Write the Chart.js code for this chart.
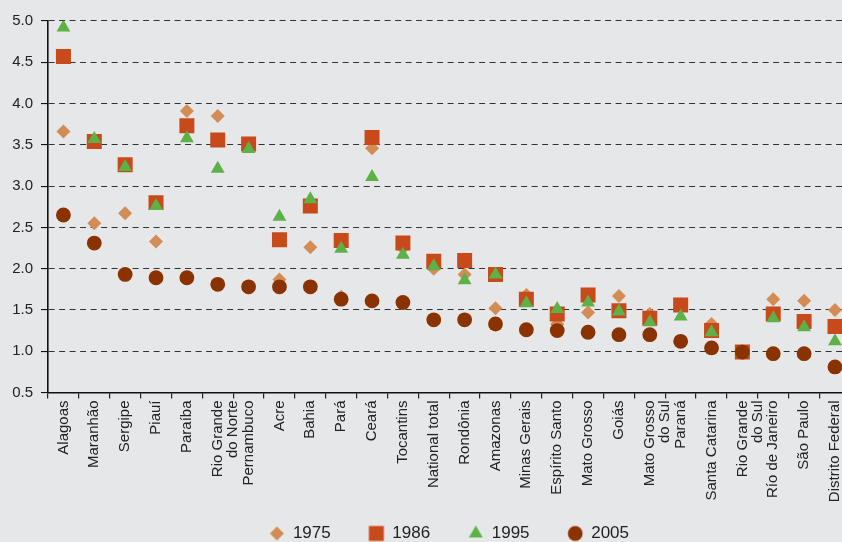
<!DOCTYPE html>
<html>
<head>
<meta charset="utf-8">
<script src="https://cdn.jsdelivr.net/npm/chart.js@4"></script>
<style>
  html, body { margin: 0; padding: 0; background: #e6e7e9; overflow: hidden; }
  #wrap { width: 842px; height: 542px; overflow: hidden; }
</style>
</head>
<body>
<div id="wrap"><canvas id="myChart" width="861" height="552"></canvas></div>
<script>
const states = ['Alagoas', 'Maranhão', 'Sergipe', 'Piauí', 'Paraíba', ['Rio Grande', 'do Norte'],
    'Pernambuco', 'Acre', 'Bahia', 'Pará', 'Ceará', 'Tocantins', 'National total', 'Rondônia',
    'Amazonas', 'Minas Gerais', 'Espírito Santo', 'Mato Grosso', 'Goiás', ['Mato Grosso', 'do Sul'],
    'Paraná', 'Santa Catarina', ['Rio Grande', 'do Sul'], 'Río de Janeiro', 'São Paulo', 'Distrito Federal'];

const y1975 = [3.66, 2.55, 2.67, 2.33, 3.91, 3.85, 3.50, 1.87, 2.26, 1.66, 3.46, 2.25, 2.00,
    1.93, 1.52, 1.68, 1.33, 1.47, 1.67, 1.45, 1.57, 1.33, 1.00, 1.63, 1.61, 1.50];
const y1986 = [4.57, 3.54, 3.26, 2.80, 3.73, 3.56, 3.51, 2.35, 2.76, 2.34, 3.59, 2.31, 2.09,
    2.10, 1.93, 1.63, 1.45, 1.68, 1.49, 1.40, 1.56, 1.25, 0.99, 1.45, 1.36, 1.30];
const y1995 = [4.92, 3.57, 3.23, 2.76, 3.58, 3.21, 3.45, 2.63, 2.84, 2.24, 3.11, 2.17, 2.03,
    1.86, 1.93, 1.58, 1.51, 1.59, 1.48, 1.35, 1.42, 1.23, 0.98, 1.40, 1.29, 1.12];
const y2005 = [2.65, 2.31, 1.93, 1.89, 1.89, 1.81, 1.78, 1.78, 1.78, 1.63, 1.61, 1.59, 1.38,
    1.38, 1.33, 1.26, 1.25, 1.23, 1.20, 1.20, 1.12, 1.04, 0.99, 0.97, 0.97, 0.81];

const yTicks = [0.5, 1.0, 1.5, 2.0, 2.5, 3.0, 3.5, 4.0, 4.5, 5.0];

const font = 'Liberation Sans, Arial, sans-serif';

function series(label, values, color, style, radius, order) {
    return {
        label: label,
        data: values,
        showLine: false,
        pointStyle: style,
        pointRadius: radius,
        pointHoverRadius: radius,
        pointBorderWidth: 0,
        backgroundColor: color,
        borderColor: color,
        order: order
    };
}

const data = {
    labels: states,
    datasets: [
        series('1975', y1975, '#d48c55', 'rectRot', 7, 4),
        series('1986', y1986, '#c84a1b', 'rect', 10.6, 3),
        series('1995', y1995, '#5db247', 'triangle', 8, 2),
        series('2005', y2005, '#8b3300', 'circle', 7.4, 1),
    ]
};

// small marker image so the legend symbols keep the same size as the plotted ones
function markerIcon(ds) {
    const c = document.createElement('canvas');
    c.width = 18; c.height = 18;
    const ctx = c.getContext('2d');
    ctx.fillStyle = ds.backgroundColor;
    ctx.strokeStyle = ds.borderColor;
    Chart.helpers.drawPoint(ctx, { pointStyle: ds.pointStyle, radius: ds.pointRadius, borderWidth: 0, rotation: 0 }, 9, 9);
    return c;
}

// legend items in dataset order, with a bit of trailing space to spread them out
function legendLabels(chart) {
    const items = Chart.defaults.plugins.legend.labels.generateLabels(chart);
    items.sort((a, b) => a.datasetIndex - b.datasetIndex);
    items.forEach((it, i) => {
        it.pointStyle = markerIcon(chart.data.datasets[it.datasetIndex]);
        if (i < items.length - 1) it.text = it.text + '     ';
    });
    return items;
}

const config = {
    type: 'line',
    data: data,
    options: {
        responsive: false,
        animation: false,
        layout: { padding: { top: 21, left: 0, right: 0, bottom: 0 } },
        plugins: {
            tooltip: { enabled: false },
            legend: {
                position: 'bottom',
                fullSize: false,
                labels: {
                    usePointStyle: true,
                    boxWidth: 15,
                    boxHeight: 13,
                    padding: 14.5,
                    color: '#222',
                    font: { family: font, size: 17 },
                    generateLabels: legendLabels
                }
            }
        },
        scales: {
            x: {
                type: 'category',
                offset: true,
                afterFit: (scale) => { scale.height = 118; },
                grid: {
                    offset: true,
                    drawOnChartArea: false,
                    drawTicks: true,
                    tickLength: 6,
                    color: '#222',
                    lineWidth: 1.2
                },
                border: { display: true, color: '#111', width: 1.6 },
                ticks: {
                    autoSkip: false,
                    maxRotation: 90,
                    minRotation: 90,
                    padding: 2,
                    color: '#222',
                    font: { family: font, size: 15, lineHeight: 1 }
                }
            },
            y: {
                min: 0.5,
                max: 5,
                afterFit: (scale) => { scale.width = 48; },
                afterBuildTicks: (scale) => { scale.ticks = yTicks.map(v => ({ value: v })); },
                grid: {
                    color: '#333',
                    lineWidth: 1.1,
                    tickLength: 7,
                    tickColor: '#111',
                    tickBorderDash: [10, 0]
                },
                border: { display: true, color: '#111', width: 1.6, dash: [6, 4.5] },
                ticks: {
                    padding: 8,
                    color: '#222',
                    font: { family: font, size: 15 },
                    callback: (v) => Number(v).toFixed(1)
                }
            }
        }
    }
};

const myChart = new Chart(document.getElementById('myChart'), config);
</script>
</body>
</html>
